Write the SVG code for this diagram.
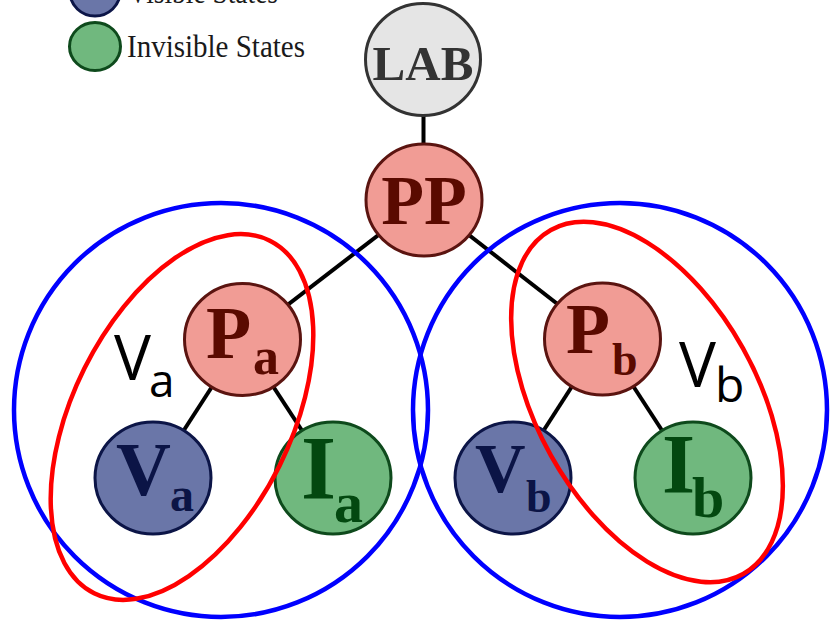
<svg xmlns="http://www.w3.org/2000/svg" width="831" height="620" viewBox="0 0 831 620">
<style>
.edge{stroke:#000;stroke-width:4;fill:none}
.p{fill:#f19c95;stroke:#5b1410;stroke-width:3}
.v{fill:#6a76a8;stroke:#0c1547;stroke-width:3}
.i{fill:#70b87e;stroke:#0e4a1c;stroke-width:3}
.lab{fill:#e5e5e5;stroke:#333;stroke-width:3}
.t{font-family:"Liberation Serif","Times New Roman",serif;font-weight:bold}
.tp{fill:#5a0a00}
.tv{fill:#0b1446}
.ti{fill:#034810}
.leg{font-family:"Liberation Serif","Times New Roman",serif;font-size:31px;fill:#1a1a1a}
.set{font-family:"Open Sans","DejaVu Sans",sans-serif;fill:#000}
.blue{fill:none;stroke:#0000ff;stroke-width:4.5}
.red{fill:none;stroke:#ff0000;stroke-width:4.5}
</style>
<rect width="831" height="620" fill="#fff"/>
<g id="legend">
<ellipse cx="95" cy="-8" rx="25" ry="24" class="v" stroke-width="2.5"/>
<text x="128" y="3" class="leg" textLength="150" lengthAdjust="spacingAndGlyphs">Visible States</text>
<ellipse cx="95" cy="46.5" rx="25.5" ry="24" class="i" stroke-width="2.5"/>
<text x="127" y="57" class="leg" textLength="178" lengthAdjust="spacingAndGlyphs">Invisible States</text>
</g>
<g id="connectors">
<line class="edge" x1="423.5" y1="59" x2="423.5" y2="200"/>
<line class="edge" x1="424" y1="200" x2="242.5" y2="339.5"/>
<line class="edge" x1="424" y1="200" x2="602.5" y2="339"/>
<line class="edge" x1="242.5" y1="339.5" x2="153" y2="478"/>
<line class="edge" x1="242.5" y1="339.5" x2="333" y2="478"/>
<line class="edge" x1="602.5" y1="339" x2="513" y2="478"/>
<line class="edge" x1="602.5" y1="339" x2="693" y2="478"/>
</g>
<g id="LAB">
<ellipse cx="423" cy="59.5" rx="57.5" ry="56" class="lab"/>
<text x="423" y="80" class="t" font-size="49" fill="#333" text-anchor="middle">LAB</text>
</g>
<g id="PP">
<ellipse cx="424" cy="200" rx="58" ry="56" class="p"/>
<text x="424" y="224" class="t tp" font-size="70" text-anchor="middle">PP</text>
</g>
<g id="Pa">
<ellipse cx="242.5" cy="339.5" rx="58" ry="56" class="p"/>
<text x="206" y="358" class="t tp" font-size="74">P</text>
<text x="253" y="374" class="t tp" font-size="52">a</text>
</g>
<g id="Pb">
<ellipse cx="602.5" cy="339" rx="58" ry="56" class="p"/>
<text x="566" y="353" class="t tp" font-size="72">P</text>
<text x="612" y="375" class="t tp" font-size="46">b</text>
</g>
<g id="Va">
<ellipse cx="153" cy="478" rx="58" ry="56" class="v"/>
<text x="116" y="495" class="t tv" font-size="76">V</text>
<text x="170" y="511" class="t tv" font-size="48">a</text>
</g>
<g id="Ia">
<ellipse cx="333" cy="478" rx="58" ry="56" class="i"/>
<text x="301" y="499" class="t ti" font-size="90">I</text>
<text x="334" y="522" class="t ti" font-size="58">a</text>
</g>
<g id="Vb">
<ellipse cx="513" cy="478" rx="58" ry="56" class="v"/>
<text x="475" y="492" class="t tv" font-size="70">V</text>
<text x="526" y="512" class="t tv" font-size="46">b</text>
</g>
<g id="Ib">
<ellipse cx="693" cy="478" rx="58" ry="56" class="i"/>
<text x="662" y="493" class="t ti" font-size="85">I</text>
<text x="692" y="517" class="t ti" font-size="58">b</text>
</g>
<g id="groups">
<circle cx="221" cy="410" r="207" class="blue"/>
<circle cx="620" cy="410" r="207" class="blue"/>
<ellipse cx="182" cy="417" rx="197" ry="109" transform="rotate(-63.5 182 417)" class="red"/>
<ellipse cx="647" cy="402" rx="197" ry="110" transform="rotate(60.8 647 402)" class="red"/>
</g>
<g id="labels">
<text x="114" y="380" class="set" font-size="62">V</text>
<text x="149" y="397" class="set" font-size="46">a</text>
<text x="679" y="387" class="set" font-size="62">V</text>
<text x="715" y="402" class="set" font-size="48">b</text>
</g>
</svg>
